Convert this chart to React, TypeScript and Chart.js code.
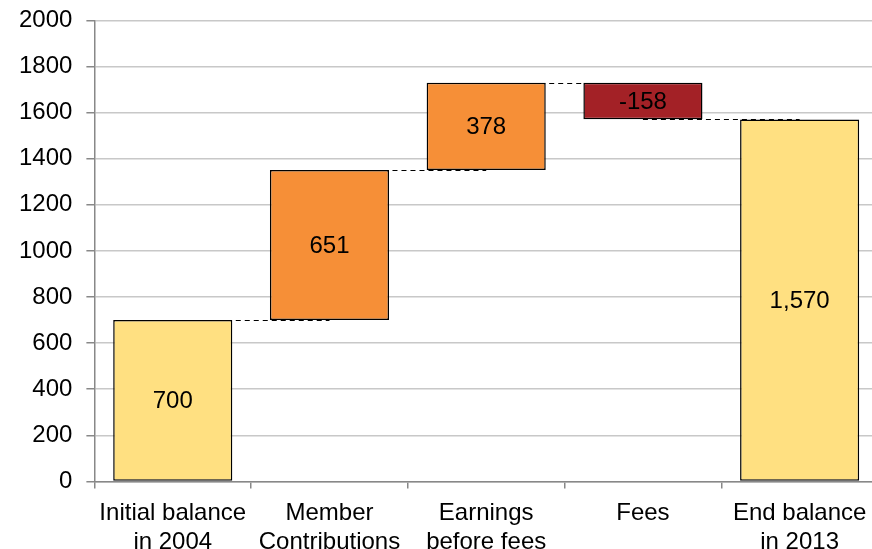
import React, { useEffect, useRef } from "react";
import { Chart, registerables } from "chart.js";

Chart.register(...registerables);

const categories: string[][] = [
  ["Initial balance", "in 2004"],
  ["Member", "Contributions"],
  ["Earnings", "before fees"],
  ["Fees"],
  ["End balance", "in 2013"],
];
const changes: number[] = [700, 651, 378, -158, 1570];
const isTotal: boolean[] = [true, false, false, false, true];
const barColors: string[] = ["#FFE081", "#F68F37", "#A32126", "#A32126", "#FFE081"];
const yTicks: number[] = [0, 200, 400, 600, 800, 1000, 1200, 1400, 1600, 1800, 2000];

const FONT = "'Liberation Sans', Arial, sans-serif";

function buildRanges() {
  const ranges: [number, number][] = [];
  const levels: number[] = [];
  let running = 0;
  changes.forEach((v, i) => {
    if (isTotal[i]) {
      ranges.push([0, v]);
      running = v;
    } else {
      ranges.push([running, running + v]);
      running = running + v;
    }
    levels.push(running);
  });
  return { ranges, levels };
}

export default function App() {
  const ref = useRef<HTMLCanvasElement | null>(null);
  useEffect(() => {
    if (!ref.current) return;
    const { ranges, levels } = buildRanges();
    const colors = changes.map((v, i) => (isTotal[i] ? barColors[0] : v < 0 ? barColors[2] : barColors[1]));

    const overlay = {
      id: "waterfallOverlay",
      afterDatasetsDraw(chart: any) {
        const ctx = chart.ctx;
        const meta = chart.getDatasetMeta(0);
        const y = chart.scales.y;
        ctx.save();
        ctx.strokeStyle = "#000";
        ctx.lineWidth = 1.2;
        ctx.setLineDash([5, 4]);
        for (let i = 0; i < meta.data.length - 1; i++) {
          const a = meta.data[i];
          const b = meta.data[i + 1];
          const py = Math.round(y.getPixelForValue(levels[i])) + 0.5;
          ctx.beginPath();
          ctx.moveTo(a.x, py);
          ctx.lineTo(b.x, py);
          ctx.stroke();
        }
        ctx.setLineDash([]);
        ctx.fillStyle = "#000";
        ctx.font = `24px ${FONT}`;
        ctx.textAlign = "center";
        ctx.textBaseline = "middle";
        meta.data.forEach((el: any, i: number) => {
          const cy = (el.y + el.base) / 2;
          ctx.fillText(changes[i].toLocaleString("en-US"), el.x, cy + 1);
        });
        ctx.restore();
      },
    };

    const chart = new Chart(ref.current, {
      type: "bar",
      data: {
        labels: categories,
        datasets: [
          {
            data: ranges as any,
            backgroundColor: colors,
            borderColor: "#000",
            borderWidth: 1.5,
            borderSkipped: false,
            categoryPercentage: 1,
            barPercentage: 0.76,
          },
        ],
      },
      options: {
        animation: false,
        responsive: false,
        maintainAspectRatio: false,
        layout: { padding: { left: 5, top: 12, right: 0, bottom: -11 } },
        plugins: { legend: { display: false }, tooltip: { enabled: false } },
        scales: {
          x: {
            grid: {
              display: true,
              drawOnChartArea: false,
              drawTicks: true,
              tickLength: 7,
              color: "#888",
              lineWidth: 1.5,
            },
            border: { display: true, color: "#888", width: 1.5 },
            ticks: {
              color: "#000",
              font: { family: FONT, size: 24, lineHeight: 1.2 },
              padding: 11,
              maxRotation: 0,
              autoSkip: false,
            },
          },
          y: {
            min: 0,
            max: 2000,
            afterBuildTicks: (scale: any) => {
              scale.ticks = yTicks.map((v) => ({ value: v }));
            },
            grid: {
              color: "#C8C8C8",
              lineWidth: 1.5,
              tickLength: 8,
              tickColor: "#888",
            },
            border: { display: true, color: "#888", width: 1.5 },
            ticks: {
              color: "#000",
              font: { family: FONT, size: 24 },
              padding: 14,
              callback: (v: any) => String(v),
            },
          },
        },
      },
      plugins: [overlay],
    });
    return () => chart.destroy();
  }, []);

  return (
    <div style={{ position: "fixed", left: 0, top: 0, width: 872, height: 549, background: "#fff", overflow: "hidden" }}>
      <canvas
        ref={ref}
        width={878}
        height={565}
        style={{ position: "absolute", left: 0, top: -8, width: 878, height: 565 }}
      />
    </div>
  );
}
